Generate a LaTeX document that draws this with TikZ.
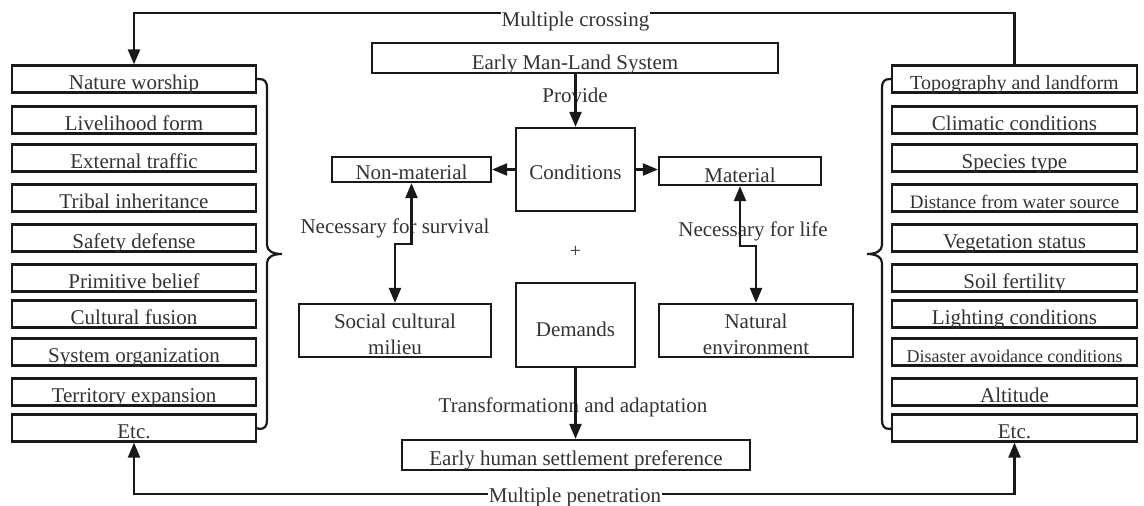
\documentclass[tikz,border=0pt]{standalone}
\usepackage{fontspec}
\setmainfont{Liberation Serif}
\usetikzlibrary{arrows.meta}
\begin{document}
\begin{tikzpicture}[x=1pt,y=-1pt,
  conn/.style={draw=black!90, line width=2.2pt},
  tip/.tip={Triangle[length=15pt,width=12pt]},
  arr/.style={conn, -tip},
  darr/.style={conn, tip-tip},
  box/.style={draw=black!90, line width=2.2pt, inner sep=0pt, text=black!80, font=\fontsize{21}{26}\selectfont},
  lbox/.style={box, minimum width=244pt, text height=24pt, text depth=3pt},
  rbox/.style={box, minimum width=245pt, text height=24pt, text depth=3pt},
  lbl/.style={text=black!80, font=\fontsize{21}{26}\selectfont, inner sep=1pt, anchor=base},
]
\useasboundingbox (0,0) rectangle (1144,506);
\fill[white] (0,0) rectangle (1144,506);

% left column
\node[lbox] (l1) at (134,79) {Nature worship};
\node[lbox] (l2) at (134,120) {Livelihood form};
\node[lbox] (l3) at (134,158) {External traffic};
\node[lbox] (l4) at (134,198) {Tribal inheritance};
\node[lbox] (l5) at (134,238) {Safety defense};
\node[lbox] (l6) at (134,278) {Primitive belief};
\node[lbox] (l7) at (134,314) {Cultural fusion};
\node[lbox] (l8) at (134,352) {System organization};
\node[lbox] (l9) at (134,392) {Territory expansion};
\node[lbox] (l10) at (134,428) {Etc.};

% right column
\node[rbox, font=\fontsize{20}{26}\selectfont] (r1) at (1014.5,79) {Topography and landform};
\node[rbox] (r2) at (1014.5,120) {Climatic conditions};
\node[rbox] (r3) at (1014.5,158) {Species type};
\node[rbox, font=\fontsize{19}{26}\selectfont] (r4) at (1014.5,198) {Distance from water source};
\node[rbox] (r5) at (1014.5,238) {Vegetation status};
\node[rbox] (r6) at (1014.5,278) {Soil fertility};
\node[rbox] (r7) at (1014.5,314) {Lighting conditions};
\node[rbox, font=\fontsize{18}{26}\selectfont] (r8) at (1014.5,352) {Disaster avoidance conditions};
\node[rbox] (r9) at (1014.5,392) {Altitude};
\node[rbox] (r10) at (1014.5,428) {Etc.};

% braces
\draw[conn] (l1.east) -- (259,79) .. controls (265,79) and (267,82) .. (267,88) -- (267,245)
  .. controls (267,251) and (273,254) .. (282,254) .. controls (273,254) and (267,257) .. (267,263)
  -- (267,420) .. controls (267,426) and (265,429) .. (259,429) -- (l10.east);
\draw[conn] (r1.west) -- (890,79) .. controls (884,79) and (882,82) .. (882,88) -- (882,245)
  .. controls (882,251) and (876,254) .. (867,254) .. controls (876,254) and (882,257) .. (882,263)
  -- (882,420) .. controls (882,426) and (884,429) .. (890,429) -- (r10.west);

% centre
\node[box, minimum width=406pt, text height=26pt, text depth=4pt] (emls) at (575,58) {Early Man-Land System};
\node[box, minimum width=119pt, text height=51pt, text depth=32pt] (cond) at (575.5,169.5) {Conditions};
\node[box, minimum width=159pt, text height=22pt, text depth=3pt] (nonmat) at (411.5,169.5) {Non-material};
\node[box, minimum width=162pt, text height=25pt, text depth=3pt] (mat) at (740,171) {Material};
\node[box, minimum width=192pt, text height=50pt, text depth=3pt] (soc) at (395,330.5)
  {\begin{tabular}[b]{@{}c@{}}Social cultural\\milieu\end{tabular}};
\node[box, minimum width=119pt, text height=53pt, text depth=31pt] (dem) at (575.5,325) {Demands};
\node[box, minimum width=194pt, text height=50pt, text depth=3pt] (nat) at (756,330.5)
  {\begin{tabular}[b]{@{}c@{}}Natural\\environment\end{tabular}};
\node[box, minimum width=348pt, text height=25pt, text depth=5pt] (ehs) at (576,455) {Early human settlement preference};

% labels without fill
\node[lbl] (prov) at (575,102) {Provide};
\node[lbl] (nsurv) at (395,233) {Necessary for survival};
\node[lbl] (nlife) at (753,236) {Necessary for life};
\node[lbl] (trans) at (573,412) {Transformationn and adaptation};
\node[text=black!80, font=\fontsize{20}{24}\selectfont, inner sep=0pt] (plus) at (575.5,252) {+};

% connectors
\draw[arr] (emls.south -| cond.north) -- (cond.north);
\draw[arr] (cond.west) -- (cond.west -| nonmat.east);
\draw[arr] (cond.east) -- (cond.east -| mat.west);
\draw[darr] (nonmat.south) -- ++(0,61) -| (soc.north);
\draw[darr] (mat.south) -- ++(0,60) -| (nat.north);
\draw[arr] (dem.south) -- (dem.south |- ehs.north);

% outer loops
\draw[arr] (r1.north) -- ++(0,-51.5) -| (l1.north);
\draw[darr] (l10.south) -- ++(0,51) -| (r10.south);
\node[lbl, fill=white] (mcross) at (575.5,26) {Multiple crossing};
\node[lbl, fill=white] (mpen) at (575,502) {Multiple penetration};
\end{tikzpicture}
\end{document}
